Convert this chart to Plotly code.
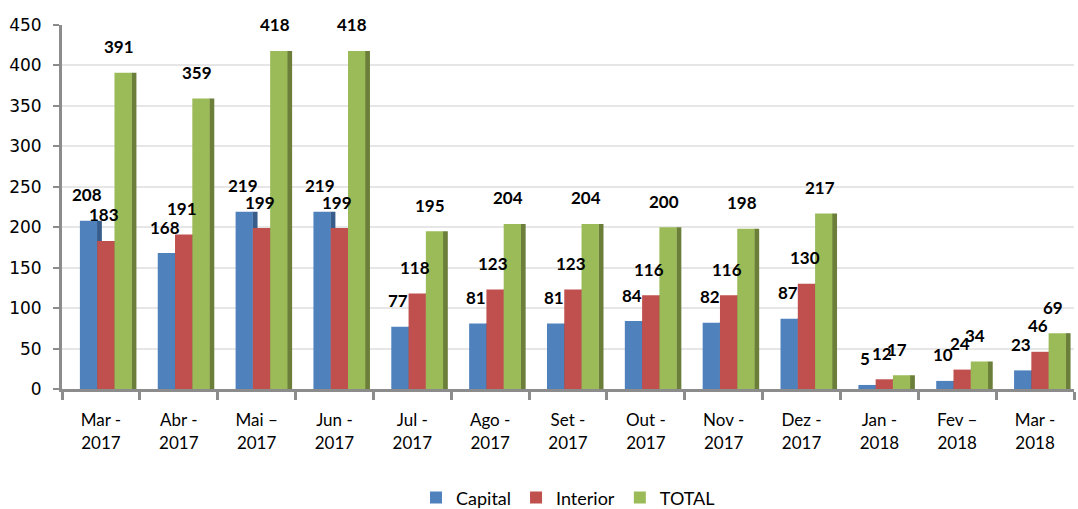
import plotly.graph_objects as go

categories = ["Mar -<br>2017", "Abr -<br>2017", "Mai –<br>2017", "Jun -<br>2017", "Jul -<br>2017",
              "Ago -<br>2017", "Set -<br>2017", "Out -<br>2017", "Nov -<br>2017", "Dez -<br>2017",
              "Jan -<br>2018", "Fev –<br>2018", "Mar -<br>2018"]
capital = [208, 168, 219, 219, 77, 81, 81, 84, 82, 87, 5, 10, 23]
interior = [183, 191, 199, 199, 118, 123, 123, 116, 116, 130, 12, 24, 46]
total = [391, 359, 418, 418, 195, 204, 204, 200, 198, 217, 17, 34, 69]
y_ticks = [0, 50, 100, 150, 200, 250, 300, 350, 400, 450]

# name, values, front colour, side colour, bar offset (category units), label x-shift (px)
series = [
    ("Capital", capital, "#4F81BD", "#385D8A", -0.27, -14),
    ("Interior", interior, "#C0504D", "#8C3836", -0.048, 3),
    ("TOTAL", total, "#9BBB59", "#6B7F3A", 0.174, 18),
]
BAR_W = 0.222
SIDE_W = 0.065

fig = go.Figure()
# darker side faces, drawn first so the next bar covers them (pseudo 3D)
for name, vals, color, side, off, _ in series:
    fig.add_trace(go.Bar(
        x=categories, y=vals, name=name + " side", showlegend=False, hoverinfo="skip",
        marker=dict(color=side, line=dict(width=0)),
        width=SIDE_W, offset=off + BAR_W - 0.005,
    ))
for name, vals, color, side, off, _ in series:
    fig.add_trace(go.Bar(
        x=categories, y=vals, name=name,
        marker=dict(color=color, line=dict(width=0)),
        width=BAR_W, offset=off,
    ))

annotations = []
for name, vals, color, side, off, xs in series:
    for c, v in zip(categories, vals):
        annotations.append(dict(
            x=c, y=v, text=str(v), showarrow=False, xshift=xs, yshift=26,
            yanchor="middle", xanchor="center",
            font=dict(family="Lato", size=17, color="black", weight="bold"),
        ))

fig.update_layout(
    barmode="overlay",
    width=1078, height=509,
    margin=dict(l=62, r=4, t=25, b=120, autoexpand=False),
    plot_bgcolor="white", paper_bgcolor="white",
    font=dict(family="Lato", color="black"),
    annotations=annotations,
    legend=dict(orientation="h", x=0.5, xanchor="center", y=-0.248, yanchor="top",
                font=dict(family="Lato", size=18, color="black"), traceorder="normal"),
    xaxis=dict(tickson="boundaries", ticks="outside", ticklen=8, tickwidth=3, tickcolor="#8c8c8c",
               showline=True, linecolor="#8c8c8c", linewidth=3, ticklabelstandoff=14,
               tickfont=dict(family="Lato", size=17, color="black")),
    yaxis=dict(range=[0, 450], tickvals=y_ticks, showgrid=True, gridcolor="#e6e6e6", gridwidth=2,
               showline=True, linecolor="#8c8c8c", linewidth=3, ticks="outside", ticklen=6,
               tickwidth=2, tickcolor="#8c8c8c", zeroline=False, ticklabelstandoff=8,
               tickfont=dict(family="DejaVu Sans", size=17, color="black")),
)

fig.write_html("out.html", config={"displayModeBar": False},
               post_script="document.body.style.margin='0';")
